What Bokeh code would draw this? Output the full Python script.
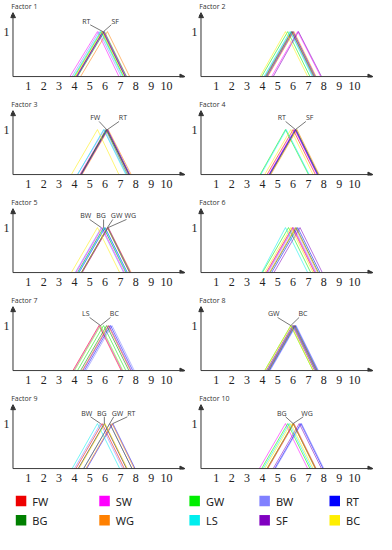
from bokeh.plotting import figure
from bokeh.models import Range1d, FixedTicker, Arrow, NormalHead, ColumnDataSource, Label
from bokeh.layouts import gridplot, column
from bokeh.embed import file_html
from bokeh.resources import INLINE
from bokeh.core.properties import value

# ---------------- data ----------------
CATEGORIES = ["FW", "SW", "GW", "BW", "RT", "BG", "WG", "LS", "SF", "BC"]
COLORS = ["#ee0000", "#ff00ff", "#00ee00", "#8080ff", "#0000ff",
          "#008000", "#ff8000", "#00eeee", "#8000c0", "#ffee00"]
TICKS = [1, 2, 3, 4, 5, 6, 7, 8, 9, 10]

#            FW    SW    GW    BW    RT    BG    WG    LS    SF    BC
F1_LOW  = [4.10, 3.70, 4.00, 3.85, 4.15, 4.20, 4.40, 3.95, 4.15, 4.05]
F1_MID  = [5.85, 5.50, 5.75, 5.60, 5.85, 5.95, 6.15, 5.70, 5.90, 5.80]
F1_UP   = [7.30, 6.90, 7.20, 7.05, 7.30, 7.40, 7.60, 7.15, 7.35, 7.25]

F2_LOW  = [4.25, 4.60, 3.95, 4.15, 4.30, 4.20, 4.35, 4.10, 4.70, 3.85]
F2_MID  = [5.95, 6.30, 5.65, 5.85, 6.00, 5.90, 6.05, 5.80, 6.35, 5.50]
F2_UP   = [7.40, 7.80, 7.10, 7.30, 7.45, 7.35, 7.50, 7.25, 7.85, 6.95]

F3_LOW  = [4.40, 4.35, 4.45, 4.20, 4.45, 4.40, 4.50, 4.20, 4.45, 3.80]
F3_MID  = [6.10, 6.05, 6.05, 5.95, 6.15, 6.10, 6.20, 5.90, 6.15, 5.50]
F3_UP   = [7.55, 7.50, 7.45, 7.40, 7.60, 7.55, 7.70, 7.35, 7.60, 6.90]

F4_LOW  = [4.30, 4.40, 3.85, 4.45, 4.45, 4.50, 4.55, 3.90, 4.45, 4.15]
F4_MID  = [6.00, 6.10, 5.50, 6.15, 6.15, 6.20, 6.25, 5.55, 6.15, 5.85]
F4_UP   = [7.45, 7.55, 7.00, 7.60, 7.60, 7.65, 7.70, 7.05, 7.60, 7.30]

F5_LOW  = [4.45, 4.10, 4.45, 4.05, 4.30, 4.20, 4.50, 4.25, 4.50, 3.80]
F5_MID  = [6.15, 5.80, 6.15, 5.75, 6.00, 5.90, 6.20, 5.95, 6.20, 5.50]
F5_UP   = [7.60, 7.25, 7.60, 7.20, 7.45, 7.35, 7.70, 7.40, 7.65, 6.95]

F6_LOW  = [4.25, 4.30, 4.00, 4.35, 4.60, 4.50, 4.45, 3.95, 4.75, 4.15]
F6_MID  = [5.95, 6.00, 5.70, 6.05, 6.30, 6.20, 6.15, 5.50, 6.45, 5.85]
F6_UP   = [7.40, 7.45, 7.15, 7.50, 7.75, 7.65, 7.60, 6.95, 7.90, 7.30]

F7_LOW  = [3.90, 3.95, 4.20, 4.75, 4.65, 4.40, 4.50, 4.00, 4.55, 4.00]
F7_MID  = [5.60, 5.65, 5.90, 6.45, 6.35, 6.10, 6.20, 5.70, 6.25, 5.70]
F7_UP   = [7.05, 7.10, 7.35, 7.90, 7.80, 7.55, 7.65, 7.15, 7.70, 7.15]

F8_LOW  = [4.25, 4.30, 4.15, 4.50, 4.45, 4.40, 4.35, 4.30, 4.35, 4.15]
F8_MID  = [5.95, 6.00, 5.85, 6.20, 6.15, 6.10, 6.05, 6.00, 6.05, 5.85]
F8_UP   = [7.40, 7.45, 7.30, 7.65, 7.60, 7.55, 7.50, 7.45, 7.50, 7.30]

F9_LOW  = [4.10, 4.25, 4.60, 4.00, 4.80, 4.25, 4.75, 3.85, 4.60, 4.30]
F9_MID  = [5.80, 5.95, 6.30, 5.70, 6.50, 5.95, 6.45, 5.50, 6.30, 6.00]
F9_UP   = [7.25, 7.40, 7.75, 7.15, 7.95, 7.40, 7.90, 6.95, 7.75, 7.45]

F10_LOW = [4.35, 3.80, 3.95, 4.85, 4.80, 4.30, 4.30, 4.05, 4.70, 4.15]
F10_MID = [6.05, 5.50, 5.65, 6.55, 6.50, 6.00, 6.00, 5.75, 6.40, 5.85]
F10_UP  = [7.50, 6.95, 7.10, 8.00, 7.95, 7.45, 7.45, 7.20, 7.85, 7.30]

FACTORS = [
    ("Factor 1", F1_LOW, F1_MID, F1_UP),
    ("Factor 2", F2_LOW, F2_MID, F2_UP),
    ("Factor 3", F3_LOW, F3_MID, F3_UP),
    ("Factor 4", F4_LOW, F4_MID, F4_UP),
    ("Factor 5", F5_LOW, F5_MID, F5_UP),
    ("Factor 6", F6_LOW, F6_MID, F6_UP),
    ("Factor 7", F7_LOW, F7_MID, F7_UP),
    ("Factor 8", F8_LOW, F8_MID, F8_UP),
    ("Factor 9", F9_LOW, F9_MID, F9_UP),
    ("Factor 10", F10_LOW, F10_MID, F10_UP),
]

# callout labels: (series, label x, label y) per factor
CALLOUTS = {
    "Factor 1": [("RT", 4.78, 1.23), ("SF", 6.65, 1.23)],
    "Factor 3": [("FW", 5.36, 1.26), ("RT", 7.16, 1.26)],
    "Factor 4": [("RT", 5.26, 1.26), ("SF", 7.08, 1.26)],
    "Factor 5": [("BW", 4.74, 1.26), ("BG", 5.73, 1.26), ("GW", 6.75, 1.26), ("WG", 7.64, 1.26)],
    "Factor 7": [("LS", 4.74, 1.26), ("BC", 6.60, 1.26)],
    "Factor 8": [("GW", 4.74, 1.26), ("BC", 6.64, 1.26)],
    "Factor 9": [("BW", 4.80, 1.23), ("BG", 5.78, 1.23), ("GW", 6.81, 1.23), ("RT", 7.70, 1.23)],
    "Factor 10": [("BG", 5.26, 1.23), ("WG", 6.91, 1.23)],
}

AX = "#333333"
SMALL_FONT = "Open Sans"


def make_panel(name, low, mid, up):
    p = figure(width=188, height=98,
               x_range=Range1d(-0.162, 11.43), y_range=Range1d(-0.02, 1.69),
               output_backend="svg", toolbar_location=None,
               min_border_left=9, min_border_right=0, min_border_top=0, min_border_bottom=21)
    p.outline_line_color = None
    p.xgrid.visible = False
    p.ygrid.visible = False

    xa = p.xaxis[0]
    xa.ticker = FixedTicker(ticks=TICKS)
    xa.axis_line_color = None
    xa.major_tick_line_color = None
    xa.minor_tick_line_color = None
    xa.major_tick_out = 0
    xa.major_tick_in = 0
    xa.major_label_standoff = 4
    xa.major_label_text_font = "Liberation Serif"
    xa.major_label_text_font_size = "12px"
    xa.major_label_text_color = "#222222"

    ya = p.yaxis[0]
    ya.ticker = FixedTicker(ticks=[1])
    ya.axis_line_color = None
    ya.major_tick_line_color = None
    ya.minor_tick_line_color = None
    ya.major_tick_out = 0
    ya.major_tick_in = 0
    ya.major_label_standoff = 1
    ya.major_label_text_font = "Liberation Serif"
    ya.major_label_text_font_size = "12px"
    ya.major_label_text_color = "#222222"

    src = ColumnDataSource(dict(
        xs=[[l, m, u] for l, m, u in zip(low, mid, up)],
        ys=[[0, 1, 0] for _ in low],
        color=COLORS,
    ))
    p.multi_line(xs="xs", ys="ys", line_color="color", line_width=1, line_alpha=0.55, source=src)

    # axes with arrow heads
    p.add_layout(Arrow(end=NormalHead(size=5, line_color=AX, fill_color=AX, line_width=1),
                       x_start=0, y_start=0, x_end=11.2, y_end=0,
                       line_color=AX, line_width=1))
    p.add_layout(Arrow(end=NormalHead(size=5, line_color=AX, fill_color=AX, line_width=1),
                       x_start=0, y_start=0, x_end=0, y_end=1.42,
                       line_color=AX, line_width=1))

    p.add_layout(Label(x=-0.12, y=1.56, text=name, text_font=SMALL_FONT,
                       text_font_size="7px", text_baseline="middle", text_color="#333333"))

    calls = CALLOUTS.get(name, [])
    if calls:
        idx = {c: i for i, c in enumerate(CATEGORIES)}
        lx = [c[1] for c in calls]
        ly = [c[2] for c in calls]
        tx = [mid[idx[c[0]]] for c in calls]
        x0 = [x + max(-0.25, min(0.25, t - x)) for x, t in zip(lx, tx)]
        y0 = [y - 0.08 for y in ly]
        p.segment(x0=x0, y0=y0, x1=tx, y1=[1.0] * len(calls),
                  line_color="#555555", line_width=0.8)
        p.text(x=lx, y=ly, text=[c[0] for c in calls], text_font=value(SMALL_FONT),
               text_font_size="7px", text_align="center", text_baseline="middle",
               text_color="#333333")
    return p


panels = [make_panel(*f) for f in FACTORS]
rows = [[panels[i], panels[i + 1]] for i in range(0, 10, 2)]
grid = gridplot(rows, toolbar_location=None)

# legend
LEG_COL_X = [15.3, 98.8, 188.9, 258.9, 329.0]
LEG_ROW_Y = [10.6, 29.8]
leg = figure(width=376, height=44, x_range=Range1d(0, 376), y_range=Range1d(44, 0),
             output_backend="svg", toolbar_location=None, min_border=0,
             x_axis_location=None, y_axis_location=None)
leg.outline_line_color = None
leg.xgrid.visible = False
leg.ygrid.visible = False
lx = [LEG_COL_X[i % 5] for i in range(len(CATEGORIES))]
ly = [LEG_ROW_Y[i // 5] for i in range(len(CATEGORIES))]
leg.rect(x=[x + 5.25 for x in lx], y=ly, width=10.5, height=10.5,
         fill_color=COLORS, line_color=None)
leg.text(x=[x + 16.5 for x in lx], y=ly, text=CATEGORIES, text_font=value("Noto Sans"),
         text_font_size="11px", text_baseline="middle", text_color="#222222")

layout = column(grid, leg)
open("out.html", "w").write(file_html(layout, INLINE))
